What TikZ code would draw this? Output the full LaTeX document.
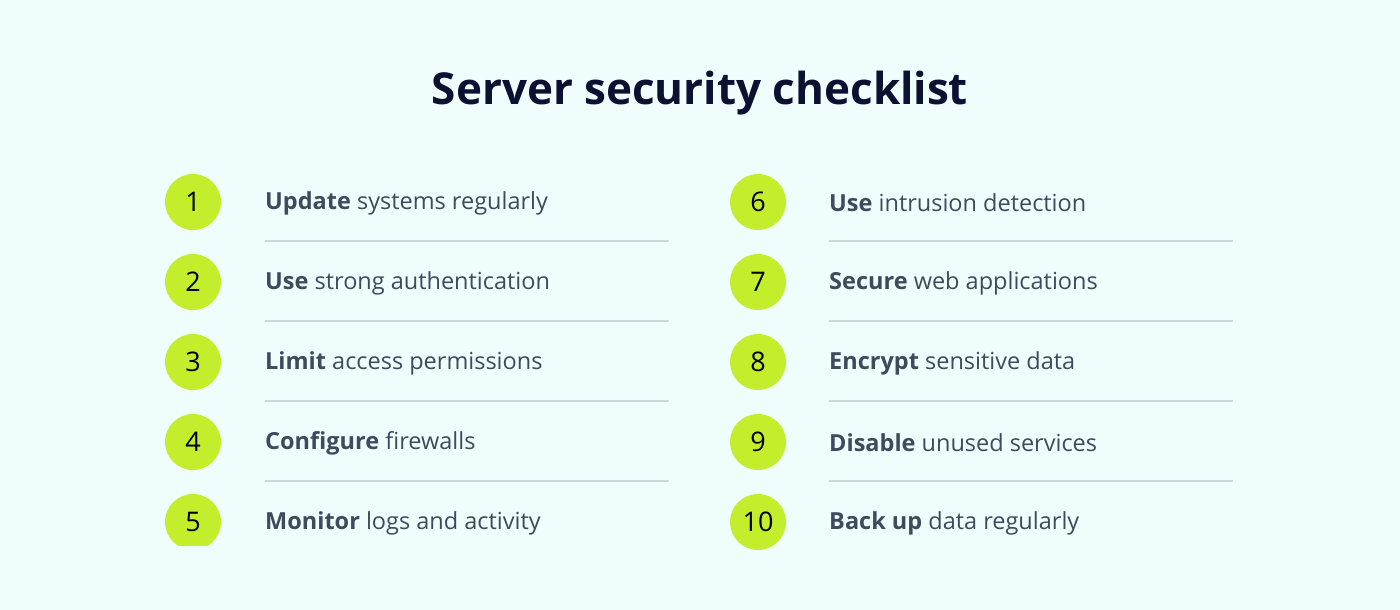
\documentclass[tikz,border=0pt]{standalone}
\usepackage{fontspec}
\setmainfont{Open Sans}
\definecolor{bg}{HTML}{F0FDFD}
\definecolor{grn}{HTML}{C2EE2C}
\definecolor{txt}{HTML}{3F4A5C}
\definecolor{ttl}{HTML}{0B1130}
\definecolor{sep}{HTML}{CDD8DC}
\begin{document}
\begin{tikzpicture}[x=1pt,y=-1pt,
  num/.style={circle,fill=grn,minimum size=56pt,inner sep=0pt,font=\fontsize{27}{29}\selectfont,text=black},
  item/.style={anchor=west,inner sep=0pt,font=\fontsize{23.5}{26}\selectfont,text=txt},
  rule/.style={draw=sep,line width=1.5pt}]
\fill[bg] (0,0) rectangle (1400,610);
\useasboundingbox (0,0) rectangle (1400,610);
\node[font=\fontsize{44}{48}\selectfont\bfseries,text=ttl] (title) at (700,93) {Server security checklist};
\foreach \i/\b/\r [count=\k from 0] in {1/Update/systems regularly,2/Use/strong authentication,3/Limit/access permissions,4/Configure/firewalls}{
  \node[num] (n\i) at (193,202+80*\k) {\i};
  \node[item] (t\i) at (265,203+80*\k) {\textbf{\b} \r};
  \coordinate (la\i) at (265,241+80*\k); \coordinate (lb\i) at (669,241+80*\k);
  \draw[rule] (la\i) -- (lb\i);
}
\begin{scope}
\clip (150,480) rectangle (240,545);
\node[num] (n5) at (193,522) {5};
\end{scope}
\node[item] (t5) at (265,523) {\textbf{Monitor} logs and activity};
\foreach \i/\b/\r [count=\k from 0] in {6/Use/intrusion detection,7/Secure/web applications,8/Encrypt/sensitive data,9/Disable/unused services,10/Back up/data regularly}{
  \node[num] (n\i) at (758,202+80*\k) {\i};
  \node[item] (t\i) at (829,203+80*\k) {\textbf{\b} \r};
}
\foreach \i [count=\k from 0] in {6,7,8,9}{
  \coordinate (la\i) at (829,241+80*\k); \coordinate (lb\i) at (1233,241+80*\k);
  \draw[rule] (la\i) -- (lb\i);
}
\end{tikzpicture}
\end{document}
